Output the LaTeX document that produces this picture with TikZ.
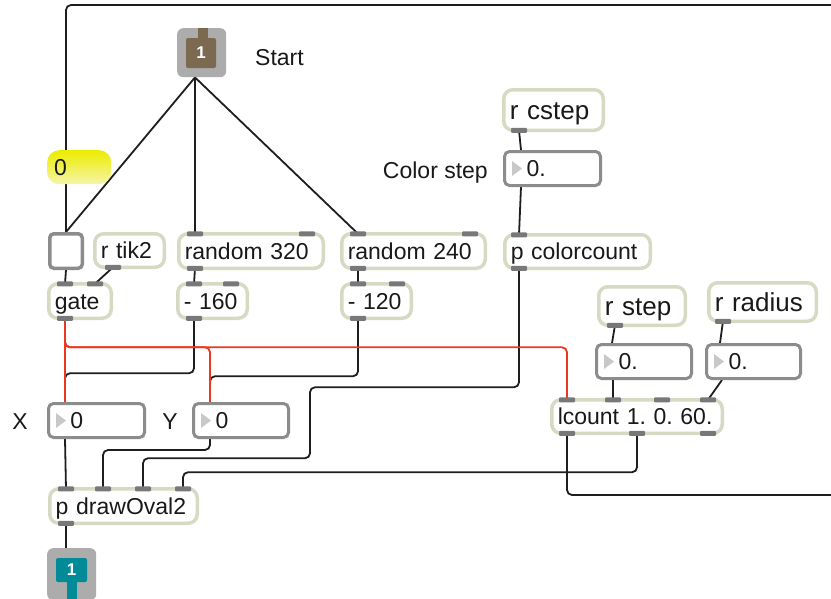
\documentclass[tikz,border=0pt]{standalone}
\usepackage{fontspec}
\setmainfont{Liberation Sans}
\usetikzlibrary{calc}
\pgfdeclarelayer{bg}
\pgfsetlayers{bg,main}
\definecolor{objb}{RGB}{212,219,194}
\definecolor{numb}{RGB}{140,140,140}
\definecolor{portc}{RGB}{120,120,120}
\definecolor{cord}{RGB}{30,30,30}
\definecolor{redc}{RGB}{235,55,30}
\definecolor{msgtop}{RGB}{236,236,0}
\definecolor{msgbot}{RGB}{245,245,170}
\definecolor{inbrown}{RGB}{123,106,80}
\definecolor{outteal}{RGB}{0,139,150}
\definecolor{iobg}{RGB}{172,172,172}
\definecolor{tri}{RGB}{200,200,200}
\definecolor{txt}{RGB}{25,25,25}
\tikzset{
 every node/.style={font=\fontsize{23}{27}\selectfont\frenchspacing, text=txt},
 obj/.style={draw=objb, line width=3.5pt, fill=white, rounded corners=9pt, anchor=north west,
   inner xsep=6pt, inner ysep=0pt, align=left, text height=16pt, text depth=0pt},
 objbig/.style={obj, font=\fontsize{26}{30}\selectfont, text height=18.5pt},
 numbox/.style={draw=numb, line width=3pt, fill=white, rounded corners=5pt, anchor=north west,
   inner xsep=6pt, inner ysep=0pt, align=left, text height=16pt, text depth=0pt},
 togbox/.style={draw=numb, line width=3.5pt, fill=white, rounded corners=4pt, anchor=north west,
   inner sep=0pt, minimum width=32.5, minimum height=34.5},
 msgbox/.style={top color=msgtop, bottom color=msgbot, draw=none, rounded corners=12pt, anchor=north west,
   inner xsep=7pt, inner ysep=0pt, minimum height=34, text width=50pt, align=left, text height=16pt, text depth=0pt},
 iobox/.style={fill=iobg, rounded corners=6pt, anchor=north west, inner sep=0pt, minimum width=49, minimum height=49},
 iotext/.style={text=white, font=\fontsize{17}{17}\bfseries\selectfont},
 lbl/.style={text height=16pt, text depth=0pt, inner sep=0pt},
 cordline/.style={draw=cord, line width=1.8pt, rounded corners=5pt},
 redline/.style={draw=redc, line width=1.8pt, rounded corners=5pt},
}
\newcommand{\mxobj}[7]{\node[#1, minimum width=#5pt-3.5pt, minimum height=#6pt-3.5pt, text width=#5pt-15.5pt] (#2) at (#3,#4) {\mbox{#7}};}
\newcommand{\mxnum}[6]{\node[numbox, minimum width=#4pt-3pt, minimum height=#5pt-3pt, text width=#4pt-15pt] (#1) at (#2,#3) {\hspace*{16pt}#6};
 \fill[tri] ([xshift=9pt,yshift=7.5pt]#1.west) -- ([xshift=9pt,yshift=-7.5pt]#1.west) -- ([xshift=19pt]#1.west) -- cycle;}
\newcommand{\mxin}[3]{\coordinate (#1) at ([xshift=#3pt,yshift=-1.75pt]#2.north west);
 \fill[portc,rounded corners=1pt] ([xshift=-8pt,yshift=-2.5pt]#1) rectangle ([xshift=8pt,yshift=2.5pt]#1);}
\newcommand{\mxout}[3]{\coordinate (#1) at ([xshift=#3pt,yshift=1.75pt]#2.south west);
 \fill[portc,rounded corners=1pt] ([xshift=-8pt,yshift=-2.5pt]#1) rectangle ([xshift=8pt,yshift=2.5pt]#1);}
\begin{document}
\begin{tikzpicture}[x=1pt,y=-1pt]
\useasboundingbox (0,0) rectangle (831,598);
\begin{pgfonlayer}{bg}
\fill[white] (0,0) rectangle (831,598);
\end{pgfonlayer}
% ---------- boxes ----------
\mxobj{obj}{rtik2}{93}{232}{73}{37}{r tik2}
\mxobj{obj}{r320}{177}{232}{148}{38}{random 320}
\mxobj{obj}{r240}{340}{232}{147}{38}{random 240}
\mxobj{obj}{gate}{47}{282}{66}{38}{gate}
\mxobj{obj}{m160}{176}{282}{73}{38}{- 160}
\mxobj{obj}{m120}{340}{282}{73}{38}{- 120}
\mxobj{objbig}{rcstep}{502}{88}{103}{44}{r cstep}
\mxobj{obj}{cc}{503}{233}{149}{37}{p colorcount}
\mxobj{objbig}{rstep}{597}{285}{90}{42}{r step}
\mxobj{objbig}{rradius}{707}{281}{111}{42}{r radius}
\mxobj{obj}{lc}{550}{398}{174}{37}{lcount 1. 0. 60.}
\mxobj{obj}{do}{48}{487}{151}{38}{p drawOval2}
\mxnum{colnum}{503}{150}{99}{37}{0.}
\mxnum{stepnum}{595}{343}{98}{37}{0.}
\mxnum{radnum}{705}{343}{97}{37}{0.}
\mxnum{xnum}{47}{402}{99}{37}{0}
\mxnum{ynum}{192}{402}{98}{37}{0}
\node[togbox] (tog) at (48,232) {};
\node[msgbox] (msg) at (47,150) {0};
% inlet / outlet
\node[iobox] (inl) at (177,28) {};
\fill[inbrown, rounded corners=2pt] (186,38) rectangle (216,68);
\fill[inbrown] (198,28) rectangle (208,40);
\node[iotext] (inlnum) at (201,53) {1};
\node[iobox, minimum height=52] (outl) at (47,548) {};
\fill[outteal, rounded corners=2pt] (56,558) rectangle (87,582);
\fill[outteal] (67,580) rectangle (77,600);
\node[iotext] (outlnum) at (71.5,570) {1};
% labels
\node[lbl, anchor=west] (startlbl) at (255,57) {Start};
\node[lbl, anchor=east] (cslbl) at (488,170) {Color step};
\node[lbl] (xlbl) at (20,421) {X};
\node[lbl] (ylbl) at (170,421) {Y};
% ---------- ports ----------
\mxin{r320-i1}{r320}{18}\mxin{r320-i2}{r320}{130}\mxout{r320-o1}{r320}{18}
\mxin{r240-i1}{r240}{18}\mxin{r240-i2}{r240}{130}\mxout{r240-o1}{r240}{18}
\mxin{gate-i1}{gate}{18}\mxin{gate-i2}{gate}{48}\mxout{gate-o1}{gate}{18}
\mxin{m160-i1}{m160}{18}\mxin{m160-i2}{m160}{55}\mxout{m160-o1}{m160}{18}
\mxin{m120-i1}{m120}{18}\mxin{m120-i2}{m120}{57}\mxout{m120-o1}{m120}{18}
\mxout{rtik2-o1}{rtik2}{20}
\mxout{rc-o1}{rcstep}{17}
\mxin{cc-i1}{cc}{16}\mxout{cc-o1}{cc}{16}
\mxout{rs-o1}{rstep}{18}
\mxout{rr-o1}{rradius}{16}
\mxin{lc-i1}{lc}{17}\mxin{lc-i2}{lc}{63}\mxin{lc-i3}{lc}{112}\mxin{lc-i4}{lc}{158}
\mxout{lc-o1}{lc}{17}\mxout{lc-o2}{lc}{87}\mxout{lc-o3}{lc}{158}
\mxin{do-i1}{do}{18}\mxin{do-i2}{do}{55}\mxin{do-i3}{do}{95}\mxin{do-i4}{do}{135}
\mxout{do-o1}{do}{18}
% numbox / io connection points
\coordinate (inl-o) at ([xshift=18pt]inl.south west);
\coordinate (outl-i) at ([xshift=19pt]outl.north west);
\coordinate (colnum-i) at ([xshift=18pt]colnum.north west);
\coordinate (colnum-o) at ([xshift=18pt]colnum.south west);
\coordinate (stepnum-i) at ([xshift=17pt]stepnum.north west);
\coordinate (stepnum-o) at ([xshift=18pt]stepnum.south west);
\coordinate (radnum-i) at ([xshift=15pt]radnum.north west);
\coordinate (radnum-o) at ([xshift=17pt]radnum.south west);
\coordinate (xnum-i) at ([xshift=18pt]xnum.north west);
\coordinate (xnum-o) at ([xshift=18pt]xnum.south west);
\coordinate (ynum-i) at ([xshift=18pt]ynum.north west);
\coordinate (ynum-o) at ([xshift=18pt]ynum.south west);
\coordinate (edgeT) at (831,5);
\coordinate (edgeB) at (831,495);
% ---------- connectors ----------
\begin{pgfonlayer}{bg}
\draw[cordline] (edgeT) -| (tog.north);
\draw[cordline] (lc-o1) |- (edgeB);
\draw[cordline] (inl-o) -- (tog.north);
\draw[cordline] (inl-o) -- (r320-i1);
\draw[cordline] (inl-o) -- (r240-i1);
\draw[cordline] (tog.south) -- (gate-i1);
\draw[cordline] (rtik2-o1) -- (gate-i2);
\draw[cordline] (r320-o1) -- (m160-i1);
\draw[cordline] (r240-o1) -- (m120-i1);
\draw[cordline] (m160-o1) -- ++(0,55) -| (xnum-i);
\draw[cordline] (m120-o1) -- ++(0,58) -| (ynum-i);
\draw[cordline] (rc-o1) -- (colnum-i);
\draw[cordline] (colnum-o) -- (cc-i1);
\draw[cordline] (cc-o1) -- ++(0,119) -- ++(-209,0) -- ++(0,71) -| (do-i3);
\draw[cordline] (ynum-o) -- ++(0,11) -| (do-i2);
\draw[cordline] (xnum-o) -- (do-i1);
\draw[cordline] (lc-o2) -- ++(0,39) -| (do-i4);
\draw[cordline] (rs-o1) -- (stepnum-i);
\draw[cordline] (stepnum-o) -- (lc-i2);
\draw[cordline] (rr-o1) -- (radnum-i);
\draw[cordline] (radnum-o) -- (lc-i4);
\draw[cordline] (do-o1) -- (outl-i);
\draw[redline] (gate-o1) -- (xnum-i);
\draw[redline] (gate-o1) -- ++(0,29) -| (lc-i1);
\draw[redline] (gate-o1) -- ++(0,29) -| (ynum-i);
\end{pgfonlayer}
\end{tikzpicture}
\end{document}
